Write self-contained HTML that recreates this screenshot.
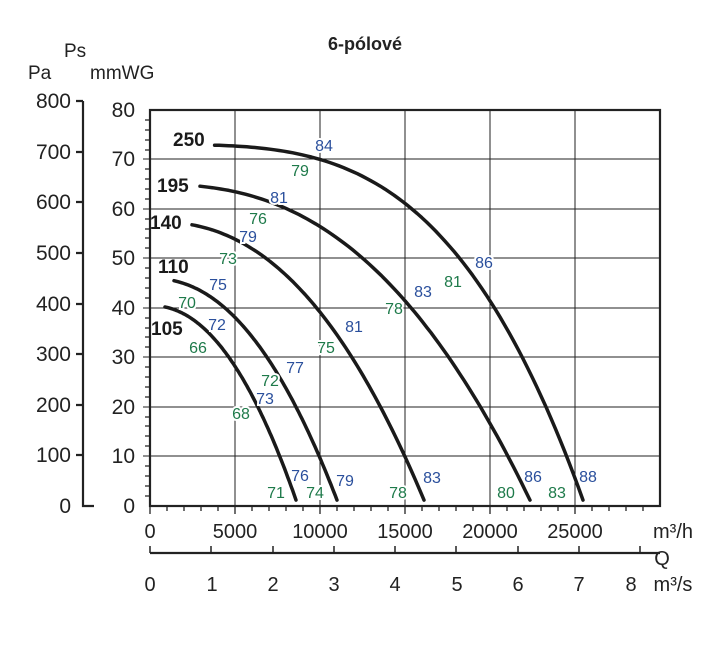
<!DOCTYPE html>
<html><head><meta charset="utf-8"><style>
html,body{margin:0;padding:0;background:#fff;}
svg{display:block;font-family:"Liberation Sans",Arial,sans-serif;}
.b{fill:#2a4f9c}.g{fill:#1e7a4a}
.lb text{paint-order:stroke;stroke:#fff;stroke-width:4px;}
</style></head><body>
<svg width="726" height="647" viewBox="0 0 726 647">
<text x="365" y="50" text-anchor="middle" font-size="18" font-weight="bold" fill="#222">6-pólové</text>
<text x="28" y="79" font-size="19" fill="#222">Pa</text>
<text x="64" y="57" font-size="19" fill="#222">Ps</text>
<text x="90" y="79" font-size="19" fill="#222">mmWG</text>
<g stroke="#222" stroke-width="2.2" fill="none">
<path d="M83 101 V506 H94"/>
<path d="M76 101H83M76 152H83M76 202H83M76 253H83M76 304H83M76 354H83M76 405H83M76 455H83"/>
</g>
<g font-size="21" fill="#222" text-anchor="end">
<text x="71" y="108">800</text><text x="71" y="159">700</text><text x="71" y="209">600</text><text x="71" y="260">500</text><text x="71" y="311">400</text><text x="71" y="361">300</text><text x="71" y="412">200</text><text x="71" y="462">100</text><text x="71" y="513">0</text>
</g>
<g stroke="#222" stroke-width="1">
<path d="M235 110V506M320 110V506M405 110V506M490 110V506M575 110V506"/>
<path d="M143 159H660M143 209H660M143 258H660M143 308H660M143 357H660M143 407H660M143 456H660"/>
</g>
<rect x="150" y="110" width="510" height="396" fill="none" stroke="#222" stroke-width="2.2"/>
<g font-size="21" fill="#222" text-anchor="end">
<text x="135" y="117">80</text><text x="135" y="166">70</text><text x="135" y="216">60</text><text x="135" y="265">50</text><text x="135" y="315">40</text><text x="135" y="364">30</text><text x="135" y="414">20</text><text x="135" y="463">10</text><text x="135" y="513">0</text>
</g>
<g font-size="20" fill="#222" text-anchor="middle">
<text x="150" y="538">0</text><text x="235" y="538">5000</text><text x="320" y="538">10000</text><text x="405" y="538">15000</text><text x="490" y="538">20000</text><text x="575" y="538">25000</text>
<text x="673" y="538">m³/h</text>
<text x="150" y="591">0</text><text x="212" y="591">1</text><text x="273" y="591">2</text><text x="334" y="591">3</text><text x="395" y="591">4</text><text x="457" y="591">5</text><text x="518" y="591">6</text><text x="579" y="591">7</text><text x="631" y="591">8</text>
<text x="673" y="591">m³/s</text>
<text x="662" y="565">Q</text>
</g>
<path d="M150 553H660" stroke="#222" stroke-width="2.2"/>
<g stroke="#222" stroke-width="1.5">
<path d="M150 546V553M211 546V553M273 546V553M334 546V553M395 546V553M456 546V553M518 546V553M579 546V553M640 546V553"/>
</g>
<g id="curves" stroke="#1a1a1a" stroke-width="3.5" fill="none" stroke-linecap="round"></g>
<g font-size="19" font-weight="bold" fill="#1a1a1a">
<text x="173" y="146">250</text><text x="157" y="192">195</text><text x="150" y="229">140</text><text x="158" y="273">110</text><text x="151" y="335">105</text>
</g>
<g class="lb" font-size="16" text-anchor="middle">
<text class="b" x="324" y="151">84</text><text class="g" x="300" y="176">79</text>
<text class="b" x="279" y="203">81</text><text class="g" x="258" y="224">76</text>
<text class="b" x="248" y="242">79</text><text class="g" x="228" y="264">73</text>
<text class="b" x="218" y="290">75</text><text class="g" x="187" y="308">70</text>
<text class="b" x="217" y="330">72</text><text class="g" x="198" y="353">66</text>
<text class="b" x="295" y="373">77</text><text class="g" x="270" y="386">72</text>
<text class="b" x="265" y="404">73</text><text class="g" x="241" y="419">68</text>
<text class="b" x="300" y="481">76</text><text class="g" x="276" y="498">71</text>
<text class="g" x="315" y="498">74</text><text class="b" x="345" y="486">79</text>
<text class="b" x="354" y="332">81</text><text class="g" x="326" y="353">75</text>
<text class="g" x="394" y="314">78</text><text class="b" x="423" y="297">83</text>
<text class="g" x="453" y="287">81</text><text class="b" x="484" y="268">86</text>
<text class="b" x="432" y="483">83</text><text class="g" x="398" y="498">78</text>
<text class="b" x="533" y="482">86</text><text class="g" x="506" y="498">80</text>
<text class="b" x="588" y="482">88</text><text class="g" x="557" y="498">83</text>
</g>
<g stroke="#222" stroke-width="1.3">
<path d="M145 120H150M145 130H150M145 140H150M145 150H150M145 169H150M145 179H150M145 189H150M145 199H150M145 219H150M145 229H150M145 238H150M145 248H150M145 268H150M145 278H150M145 288H150M145 298H150M145 318H150M145 328H150M145 337H150M145 347H150M145 367H150M145 377H150M145 387H150M145 397H150M145 417H150M145 426H150M145 436H150M145 446H150M145 466H150M145 476H150M145 486H150M145 496H150"/>
<path d="M150 506V514M167 506V511M184 506V511M201 506V511M218 506V511M235 506V514M252 506V511M269 506V511M286 506V511M303 506V511M320 506V514M337 506V511M354 506V511M371 506V511M388 506V511M405 506V514M422 506V511M439 506V511M456 506V511M473 506V511M490 506V514M507 506V511M524 506V511M541 506V511M558 506V511M575 506V514M592 506V511M609 506V511M626 506V511M643 506V511"/>
</g>
</svg>
<script>
var C=[[73,3800,25470,3.4],[65,2940,22350,2.5],[57.5,2470,16120,2.35],[46,1410,11000,2.2],[40.5,880,8590,2.15]];
var g=document.getElementById('curves'),ns='http://www.w3.org/2000/svg';
C.forEach(function(c){var a=c[0],q0=c[1],q1=c[2],n=c[3],pts=[];
for(var i=0;i<=80;i++){var q=q0+(q1-q0)*i/80;var p=a-(a-1.2)*Math.pow(q/q1,n);
pts.push((150+q*0.017).toFixed(1)+','+(506-p*4.95).toFixed(1));}
var el=document.createElementNS(ns,'polyline');el.setAttribute('points',pts.join(' '));el.setAttribute('stroke-linejoin','round');g.appendChild(el);});
</script>
</body></html>
